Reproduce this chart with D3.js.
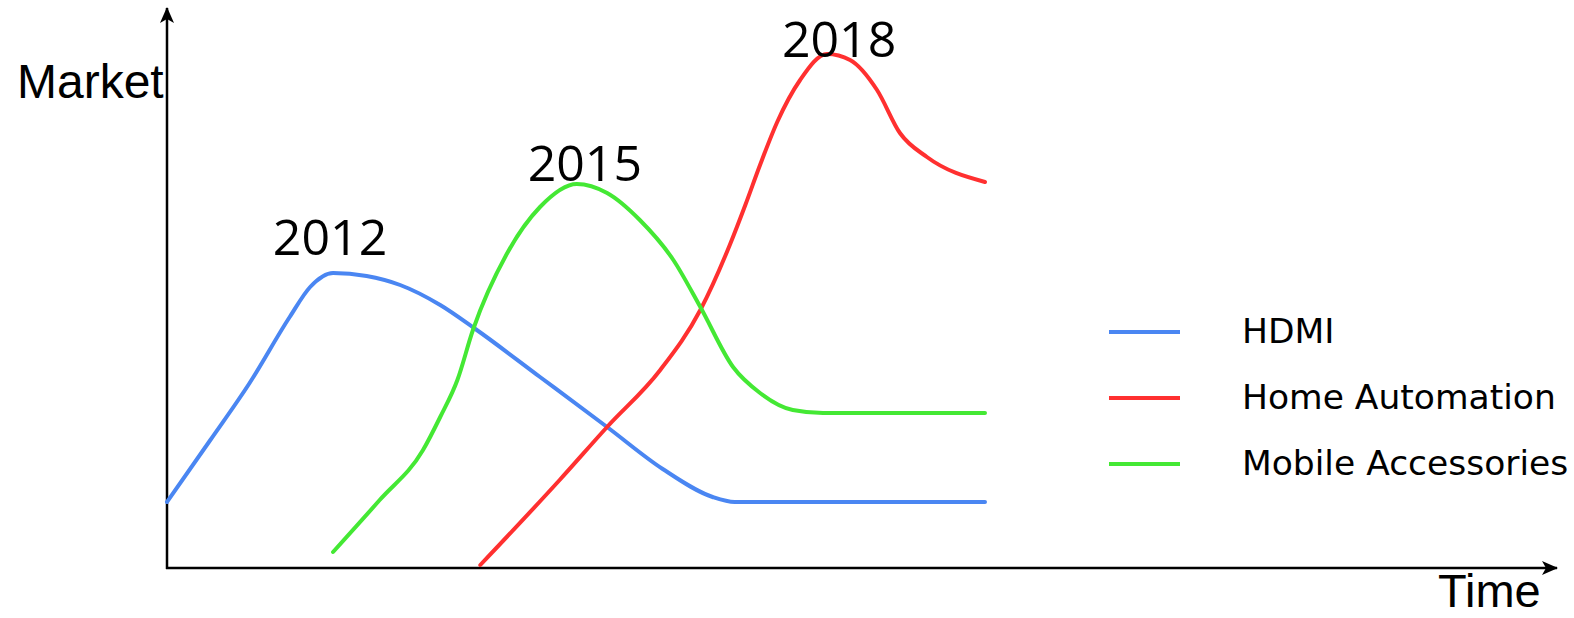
<!DOCTYPE html>
<html>
<head>
<meta charset="utf-8">
<script src="https://cdn.jsdelivr.net/npm/d3@7/dist/d3.min.js"></script>
<style>
  html, body { margin: 0; padding: 0; background: #fff; }
  svg { display: block; }
</style>
</head>
<body>
<svg id="chart" width="1574" height="618"></svg>
<script>
// ---- data (x = year, y = relative market size) ----
const seriesNames = ["HDMI", "Home Automation", "Mobile Accessories"];
const seriesColors = ["#4a86f2", "#ff3030", "#44e834"];

const hdmiX = [2010.00, 2010.53, 2011.01, 2011.50, 2011.75, 2012.03, 2012.44, 2012.85, 2013.34, 2013.77, 2014.56, 2015.38, 2016.06, 2016.67, 2016.94, 2020.00];
const hdmiY = [13.2, 25.6, 37.0, 50.2, 56.2, 59.0, 58.4, 56.6, 52.6, 47.8, 38.2, 28.2, 19.8, 14.2, 13.2, 13.2];

const homeX = [2013.83, 2014.80, 2015.38, 2016.03, 2016.52, 2016.88, 2017.07, 2017.25, 2017.46, 2017.74, 2018.07, 2018.35, 2018.68, 2018.96, 2019.29, 2020.00];
const homeY = [0.6, 17.6, 28.2, 39.6, 51.6, 64.6, 72.6, 80.6, 89.2, 97.6, 102.8, 101.6, 95.6, 87.0, 82.2, 77.2];

const mobileX = [2012.03, 2012.60, 2013.13, 2013.34, 2013.55, 2013.74, 2014.16, 2014.56, 2015.01, 2015.38, 2015.78, 2016.19, 2016.52, 2016.92, 2017.25, 2017.65, 2018.02, 2020.00];
const mobileY = [3.2, 13.6, 23.6, 30.2, 37.6, 47.6, 63.0, 72.2, 76.8, 75.0, 69.6, 61.6, 52.2, 40.2, 35.0, 31.6, 31.0, 31.0];

const peakLabels = ["2012", "2018", "2015"];   // one per series, same order as seriesNames
const axisLabels = { y: "Market", x: "Time" };

// ---- layout ----
const svg = d3.select("#chart");
const x = d3.scaleLinear().domain([2010, 2020]).range([167, 985]);
const y = d3.scaleLinear().domain([0, 100]).range([568, 68]);

const series = [
  { name: seriesNames[0], color: seriesColors[0], pts: hdmiX.map((v, i) => [v, hdmiY[i]]), label: peakLabels[0], dx: -3, dy: -18 },
  { name: seriesNames[1], color: seriesColors[1], pts: homeX.map((v, i) => [v, homeY[i]]), label: peakLabels[1], dx: 12, dy: 3 },
  { name: seriesNames[2], color: seriesColors[2], pts: mobileX.map((v, i) => [v, mobileY[i]]), label: peakLabels[2], dx: 8, dy: -3 }
];

// arrow marker
const defs = svg.append("defs");
defs.append("marker")
  .attr("id", "arrow")
  .attr("viewBox", "0 0 16 16")
  .attr("refX", 15).attr("refY", 8)
  .attr("markerWidth", 16).attr("markerHeight", 16)
  .attr("markerUnits", "userSpaceOnUse")
  .attr("orient", "auto")
  .append("path")
  .attr("d", "M0,1 L16,8 L0,15 L4,8 Z")
  .attr("fill", "#000");

// axes
const x0 = x.range()[0], y0 = y.range()[0];
svg.append("line")
  .attr("x1", x0).attr("y1", y0 + 1).attr("x2", x0).attr("y2", 8)
  .attr("stroke", "#000").attr("stroke-width", 2.5)
  .attr("marker-end", "url(#arrow)");
svg.append("line")
  .attr("x1", x0 - 1).attr("y1", y0).attr("x2", 1557).attr("y2", y0)
  .attr("stroke", "#000").attr("stroke-width", 2.5)
  .attr("marker-end", "url(#arrow)");

svg.append("text")
  .attr("x", 17).attr("y", 98)
  .attr("font-family", "Liberation Sans, Arial, sans-serif")
  .attr("font-size", 48)
  .attr("fill", "#000")
  .text(axisLabels.y);
svg.append("text")
  .attr("x", 1438).attr("y", 607)
  .attr("font-family", "Liberation Sans, Arial, sans-serif")
  .attr("font-size", 47)
  .attr("fill", "#000")
  .text(axisLabels.x);

// lines
const line = d3.line()
  .x(d => x(d[0])).y(d => y(d[1]))
  .curve(d3.curveMonotoneX);

svg.append("g").selectAll("path")
  .data(series)
  .join("path")
  .attr("d", d => line(d.pts))
  .attr("fill", "none")
  .attr("stroke", d => d.color)
  .attr("stroke-width", 4)
  .attr("stroke-linecap", "round")
  .attr("stroke-linejoin", "round");

// peak labels
svg.append("g").selectAll("text")
  .data(series)
  .join("text")
  .attr("x", d => { const p = d3.greatest(d.pts, q => q[1]); return x(p[0]) + d.dx; })
  .attr("y", d => { const p = d3.greatest(d.pts, q => q[1]); return y(p[1]) + d.dy; })
  .attr("text-anchor", "middle")
  .attr("font-family", "Open Sans, sans-serif")
  .attr("font-size", 50)
  .attr("fill", "#000")
  .text(d => d.label);

// legend
const legend = svg.append("g").selectAll("g")
  .data(series)
  .join("g")
  .attr("transform", (d, i) => `translate(1109, ${332 + i * 66})`);
legend.append("line")
  .attr("x1", 0).attr("x2", 71).attr("y1", 0).attr("y2", 0)
  .attr("stroke", d => d.color).attr("stroke-width", 4);
legend.append("text")
  .attr("x", 133).attr("y", 11)
  .attr("font-family", "DejaVu Sans, sans-serif")
  .attr("font-size", 34.5)
  .attr("fill", "#000")
  .text(d => d.name);
</script>
</body>
</html>
